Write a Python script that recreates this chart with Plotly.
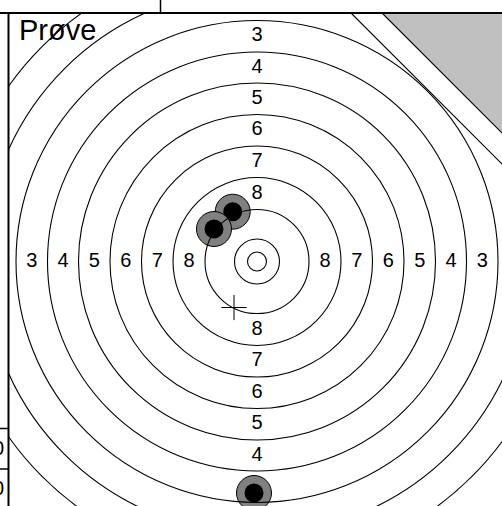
import plotly.graph_objects as go

# ---------------- data ----------------
# ring scores and their outer-edge radii (target units, centre = 0,0)
ring_scores = [1, 2, 3, 4, 5, 6, 7, 8, 9, 10]
ring_radii = [304, 272.5, 241, 209.5, 178.5, 147, 115.5, 84, 52, 22.5]
inner_ten_radius = 9.5
label_scores = [3, 4, 5, 6, 7, 8]

# shots (centre positions)
shots_x = [-24.3, -43.0, -3.0]
shots_y = [49.8, 32.5, -231.5]
# mean point of impact marker
mpi_x = [-23.0]
mpi_y = [-46.0]

# card-edge lines: X + Y = c
card_edge_c = 342.5
grey_edge_c = 373.5

title_text = "Prøve"
side_scores = ["0", "0"]

# ---------------- figure ----------------
W, H = 502, 506
ML, MT = 9, 14
x_range = [-248, 245]
y_range = [-244.5, 247.5]

FONT = "Liberation Sans, Arial, sans-serif"
rad = dict(zip(ring_scores, ring_radii))

fig = go.Figure()

# score labels (text trace, drawn beneath shot shapes)
lx, ly, lt = [], [], []
for s in label_scores:
    m = (rad[s] + rad[s + 1]) / 2
    for (dx, dy) in [(-1, 0), (1, 0), (0, 1), (0, -1)]:
        lx.append(dx * m)
        ly.append(dy * m)
        lt.append(str(s))
fig.add_trace(go.Scatter(x=lx, y=ly, text=lt, mode="text",
                         textfont=dict(family=FONT, size=20, color="black"),
                         hoverinfo="skip", showlegend=False))

# mean point of impact cross
fig.add_trace(go.Scatter(x=mpi_x, y=mpi_y, mode="markers",
                         marker=dict(symbol="cross-thin", size=18,
                                     line=dict(color="black", width=1)),
                         hoverinfo="skip", showlegend=False))

shapes = []

# shots
for sx, sy in zip(shots_x, shots_y):
    shapes.append(dict(type="circle", xref="x", yref="y", layer="above",
                       x0=sx - 17.5, x1=sx + 17.5, y0=sy - 17.5, y1=sy + 17.5,
                       fillcolor="#808080", line=dict(color="black", width=1)))
    shapes.append(dict(type="circle", xref="x", yref="y", layer="above",
                       x0=sx - 9.5, x1=sx + 9.5, y0=sy - 9.5, y1=sy + 9.5,
                       fillcolor="black", line=dict(color="black", width=0)))

# rings on top of shots
for r in ring_radii + [inner_ten_radius]:
    shapes.append(dict(type="circle", xref="x", yref="y", layer="above",
                       x0=-r, x1=r, y0=-r, y1=r,
                       line=dict(color="black", width=1.1)))

# card edge (white beyond it) and grey corner
for c, fillc in [(card_edge_c, "white"), (grey_edge_c, "#c0c0c0")]:
    shapes.append(dict(type="path", xref="x", yref="y", layer="above",
                       path=f"M {c-400},400 L 400,{c-400} L 400,400 Z",
                       fillcolor=fillc, line=dict(color="black", width=1.2)))

# frame (paper coords)
PW, PH = W - ML, H - MT
def px(x):
    return (x - ML) / PW
def py(y):
    return (H - y) / PH

frame = [
    (0, 13, W, 13, 2),
    (8.5, 13, 8.5, H, 2),
    (160.5, 0, 160.5, 13, 1.5),
    (0, 428.5, 8.5, 428.5, 1.5),
    (0, 469, 8.5, 469, 1.5),
]
for x0, y0, x1, y1, w in frame:
    shapes.append(dict(type="line", xref="paper", yref="paper", layer="above",
                       x0=px(x0), y0=py(y0), x1=px(x1), y1=py(y1),
                       line=dict(color="black", width=w)))

annotations = [
    dict(text=title_text, xref="paper", yref="paper", x=px(17), y=py(12),
         xanchor="left", yanchor="top", showarrow=False,
         font=dict(family=FONT, size=29, color="black")),
]
for val, yc in zip(side_scores, [448, 488]):
    annotations.append(dict(text=val, xref="paper", yref="paper",
                            x=px(6), y=py(yc), xanchor="right", yanchor="middle",
                            showarrow=False,
                            font=dict(family=FONT, size=20, color="black")))

fig.update_layout(
    width=W, height=H,
    margin=dict(l=ML, r=0, t=MT, b=0, pad=0),
    paper_bgcolor="white", plot_bgcolor="white",
    xaxis=dict(range=x_range, visible=False, showgrid=False, zeroline=False,
               fixedrange=True),
    yaxis=dict(range=y_range, visible=False, showgrid=False, zeroline=False,
               fixedrange=True),
    shapes=shapes, annotations=annotations,
    showlegend=False,
)

fig.write_html("out.html", config={"displayModeBar": False},
               post_script="document.body.style.margin='0';"
                           "document.body.style.overflow='hidden';")
